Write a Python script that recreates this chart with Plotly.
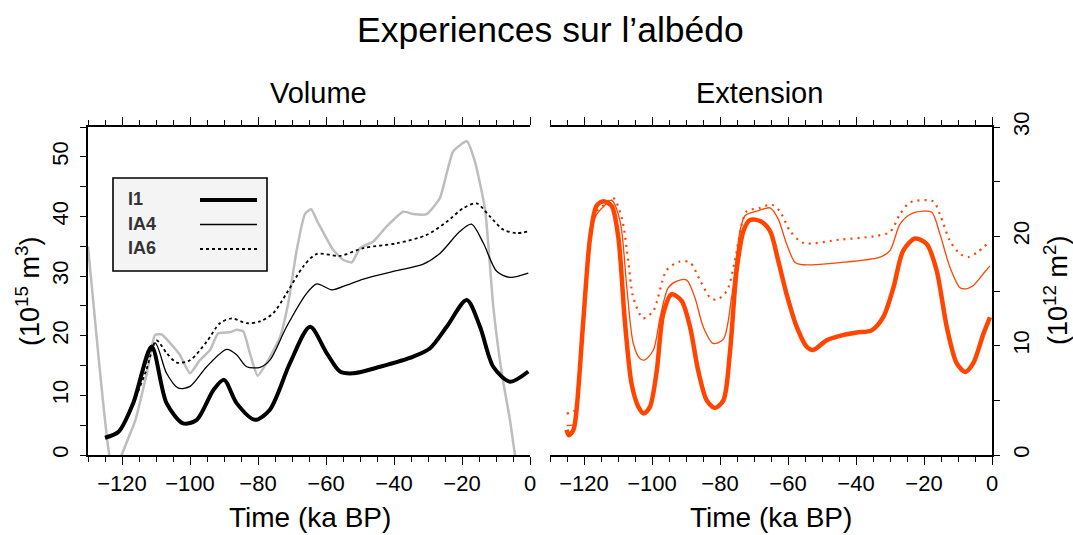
import plotly.graph_objects as go

W, H = 1073, 535

# Volume panel (10^15 m^3)
vol_i1_t = [-125, -121, -116.7, -111.3, -106.9, -102, -98, -93.1, -90, -86.3, -80.9, -76.5, -70.6,
            -64.7, -59.8, -55.9, -52, -44.1, -34.3, -29.4, -24.5, -18.6, -14.7, -10.8, -5.9, -0.5]
vol_i1 = [2.9, 3.9, 8.7, 18.2, 8.7, 5.3, 5.9, 10.9, 12.6, 8.7, 5.9, 7.6, 15.4,
          21.5, 17.1, 14.0, 13.7, 14.8, 16.5, 17.9, 21.5, 26.0, 21.5, 14.8, 12.3, 14.0]

vol_ia4_t = [-125, -121, -116.7, -110.3, -106.9, -103.4, -100, -95.1, -89.2, -86.3, -83.3, -79.4,
             -76.5, -71.6, -65.7, -62.7, -58.3, -53.9, -49, -39.2, -31.4, -26.5, -20.6, -17.2,
             -13.7, -9.8, -5.9, -0.5]
vol_ia4 = [2.9, 3.9, 8.7, 18.8, 13.7, 11.2, 11.5, 14.8, 17.7, 16.8, 14.8, 14.7,
           15.9, 21.5, 27.1, 28.7, 27.7, 28.5, 29.5, 30.9, 32.0, 33.8, 37.5, 38.7,
           35.5, 30.8, 29.8, 30.5]

vol_ia6_t = [-125, -121, -116.7, -113, -109.8, -106.9, -103.9, -100, -95.1, -91.2, -87.7, -83.3,
             -79.4, -75.5, -71.6, -66.7, -62.8, -55.9, -49, -39.2, -30.4, -24.5, -19.6, -15.7,
             -11.8, -7.9, -4, -0.5]
vol_ia6 = [2.9, 3.9, 8.7, 14.0, 19.2, 17.1, 15.5, 15.9, 19.0, 22.1, 22.9, 22.1,
           22.4, 23.8, 27.1, 31.6, 33.7, 33.4, 34.7, 35.5, 36.9, 39.1, 41.4, 42.2,
           40.0, 37.8, 37.2, 37.5]

vol_ref_t = [-130, -127, -123.7, -122, -120.1, -117.6, -116.2, -112.7, -110.3, -108.3, -105.9, -103,
             -100, -97.1, -94.1, -91.7, -88.2, -86.3, -84.3, -82.4, -80.1, -77.5, -73.5, -71.1,
             -68.6, -66.2, -64.4, -62.3, -57.9, -54.9, -52.4, -50, -46.1, -42.2, -37.3, -34.3,
             -30.4, -26.5, -22.6, -18.6, -16.2, -13.2, -10.8, -8.3, -5.9, -4.4, -2]
vol_ref = [35, 17, 0, -2.5, 0, 3.6, 5.6, 13.7, 20.1, 20.2, 18.8, 16.8,
           13.7, 15.9, 17.6, 20.4, 20.6, 21.0, 20.7, 17.1, 13.3, 15.4, 19.8, 25.5,
           34.4, 40.4, 41.2, 38.9, 34.4, 32.7, 32.3, 34.7, 35.8, 38.3, 40.8, 40.4,
           40.4, 43.1, 50.9, 52.6, 49.2, 41.1, 24.9, 13.7, 5.9, 0, -6]

# Extension panel (10^12 m^2)
ext_i1_t = [-125.1, -124.5, -123.1, -122.2, -120.2, -118.2, -116.3, -114.3, -111.9, -109.9, -108, -106,
            -104, -102.4, -100.6, -98.6, -96.7, -94.2, -91.3, -88.8, -86.4, -83.9, -81.5, -79,
            -77.1, -75.1, -73.1, -71.2, -68.2, -65.3, -62.9, -60.4, -57.4, -54.5, -52.6, -48.6,
            -44.7, -39.8, -35.4, -32, -29, -26.1, -22.6, -19.2, -16.3, -13.3, -10.4, -7.9,
            -5.5, -2.5, -0.6]
ext_i1 = [2.3, 1.8, 2.3, 4.1, 12.3, 19.9, 22.8, 23.2, 22.8, 19.9, 12.3, 6.5,
          4.4, 3.8, 4.4, 7.7, 12.9, 14.7, 14.1, 11.7, 7.7, 5.0, 4.3, 5.0,
          9.3, 16.9, 20.5, 21.5, 21.4, 20.5, 17.8, 14.7, 11.7, 9.9, 9.6, 10.5,
          10.9, 11.2, 11.4, 12.6, 15.3, 18.7, 19.8, 19.3, 16.9, 11.7, 8.4, 7.6,
          8.4, 11.1, 12.6]

ext_ia4_t = [-125.1, -123, -122.2, -120.2, -118.2, -116.3, -114, -111.9, -109.4, -107.4, -105.5, -103.5,
             -102.1, -99.6, -97.6, -95.2, -92.7, -89.8, -87.4, -84.9, -82, -79, -76.6, -74.1,
             -72.6, -69.2, -65.3, -62.9, -60.4, -57.9, -55.5, -44.7, -32.9, -30, -27.1, -24.1,
             -20.2, -17.7, -15.3, -12.4, -9.4, -7.5, -5.5, -2.5, -0.6]
ext_ia4 = [2.7, 2.8, 4.1, 12.3, 19.9, 22.0, 22.8, 23.3, 21.4, 15.3, 10.2, 8.8,
           8.7, 9.6, 12.6, 15.3, 15.9, 16.0, 14.4, 11.7, 10.2, 10.6, 14.4, 20.5,
           21.9, 22.3, 22.6, 21.6, 19.3, 17.6, 17.4, 17.6, 18.1, 18.7, 21.1, 22.0,
           22.3, 22.2, 20.2, 17.2, 15.3, 15.2, 15.5, 16.6, 17.3]

ext_ia6_t = [-125.1, -123, -122.2, -120.2, -118.2, -116.3, -114, -111.4, -108.9, -107, -105.5, -102.6,
             -99.6, -95.7, -91.8, -88.8, -85.9, -82.9, -81, -78, -75.6, -73.6, -72.1, -68.2,
             -64.8, -62.4, -59.4, -55.5, -44.7, -34.9, -30, -27.1, -24.1, -17.3, -15.3, -12.4,
             -9.4, -7, -4.5, -1.1]
ext_ia6 = [3.8, 4.0, 4.8, 12.3, 19.9, 22.3, 22.9, 23.5, 21.7, 17.8, 14.4, 12.5,
           13.2, 16.9, 17.7, 17.6, 16.0, 14.4, 14.2, 15.0, 17.8, 21.1, 22.3, 22.6,
           22.9, 22.3, 20.5, 19.4, 19.7, 20.0, 20.4, 22.0, 23.1, 23.2, 22.0, 19.6,
           18.4, 18.1, 18.5, 19.4]

legend_names = ["I1", "IA4", "IA6"]

BLACK = "#000000"
ORANGE = "#ff4500"
GREY = "#bdbdbd"
FONT = "Liberation Sans"

styles = {
    "I1": dict(width=4, dash="solid"),
    "IA4": dict(width=1.3, dash="solid"),
    "IA6": dict(width=1.8, dash="3px,3px"),
}


def px(x):
    return x / W


def py(y):
    return 1 - y / H


fig = go.Figure()

fig.add_trace(go.Scatter(x=vol_ref_t, y=vol_ref, mode="lines", line=dict(color=GREY, width=2.5, shape="spline", smoothing=0.5),
                         xaxis="x", yaxis="y", showlegend=False))
for name, t, v in [("I1", vol_i1_t, vol_i1), ("IA4", vol_ia4_t, vol_ia4), ("IA6", vol_ia6_t, vol_ia6)]:
    fig.add_trace(go.Scatter(x=t, y=v, mode="lines", name=name, xaxis="x", yaxis="y", showlegend=False,
                             line=dict(color=BLACK, shape="spline", smoothing=0.8, **styles[name])))
for name, t, v in [("IA6", ext_ia6_t, ext_ia6), ("IA4", ext_ia4_t, ext_ia4), ("I1", ext_i1_t, ext_i1)]:
    st = dict(styles[name])
    if name == "I1":
        st["width"] = 4.5
    if name == "IA6":
        st = dict(width=2.2, dash="2px,5px")
    fig.add_trace(go.Scatter(x=t, y=v, mode="lines", name=name, xaxis="x2", yaxis="y2", showlegend=False,
                             line=dict(color=ORANGE, shape="spline", smoothing=0.8, **st)))

xcommon = dict(range=[-130, 0], tickmode="linear", tick0=0, dtick=20, ticks="outside", ticklen=8,
               tickwidth=1.3, tickcolor="black", showline=True, linecolor="black", linewidth=1.8,
               mirror="ticks", showgrid=False, zeroline=False, automargin=False,
               tickfont=dict(family=FONT, size=22, color="black"),
               minor=dict(dtick=5, ticks="outside", ticklen=5, tickwidth=1.2, tickcolor="black", showgrid=False))
ycommon = dict(ticks="outside", ticklen=6, tickwidth=1.3, tickcolor="black", showline=True,
               linecolor="black", linewidth=1.8, showgrid=False, zeroline=False, tickangle=-90,
               tickmode="linear", tick0=0, dtick=10, automargin=False, ticklabelstandoff=3,
               tickfont=dict(family=FONT, size=22, color="black"),
               minor=dict(dtick=5, ticks="outside", ticklen=6, tickwidth=1.2, tickcolor="black", showgrid=False))

fig.update_layout(
    width=W, height=H, autosize=False,
    margin=dict(l=0, r=0, t=0, b=0, pad=0),
    paper_bgcolor="white", plot_bgcolor="white",
    font=dict(family=FONT, color="black"),
    xaxis=dict(domain=[px(88), px(530)], anchor="y", **xcommon),
    xaxis2=dict(domain=[px(550), px(992)], anchor="y2", **xcommon),
    yaxis=dict(domain=[py(455), py(127)], anchor="x", range=[0, 55], side="left", **ycommon),
    yaxis2=dict(domain=[py(455), py(127)], anchor="x2", range=[0, 30], side="right", **ycommon),
)

annotations = [
    dict(text="Experiences sur l’albédo", x=px(550), y=py(30), size=35.5),
    dict(text="Volume", x=px(318), y=py(93), size=29),
    dict(text="Extension", x=px(759), y=py(93), size=29),
    dict(text="Time (ka BP)", x=px(310), y=py(517), size=28),
    dict(text="Time (ka BP)", x=px(771), y=py(517), size=28),
]
for a in annotations:
    fig.add_annotation(text=a["text"], x=a["x"], y=a["y"], xref="paper", yref="paper",
                       showarrow=False, xanchor="center", yanchor="middle",
                       font=dict(family=FONT, size=a["size"], color="black"))

fig.add_annotation(text="(10<sup>15</sup> m<sup>3</sup>)", x=px(28), y=py(291), xref="paper", yref="paper",
                   showarrow=False, textangle=-90, xanchor="center", yanchor="middle",
                   font=dict(family=FONT, size=27, color="black"))
fig.add_annotation(text="(10<sup>12</sup> m<sup>2</sup>)", x=px(1056), y=py(290), xref="paper", yref="paper",
                   showarrow=False, textangle=-90, xanchor="center", yanchor="middle",
                   font=dict(family=FONT, size=27, color="black"))

# hand-drawn legend box (labels on the left, line samples on the right)
fig.add_shape(type="rect", xref="paper", yref="paper", x0=px(113), x1=px(267), y0=py(271), y1=py(178),
              fillcolor="#f4f4f4", line=dict(color="black", width=1.6), layer="below")
for i, name in enumerate(legend_names):
    yy = 199 + i * 24.5
    fig.add_annotation(text="<b>%s</b>" % name, x=px(126), y=py(yy), xref="paper", yref="paper",
                       showarrow=False, xanchor="left", yanchor="middle",
                       font=dict(family=FONT, size=18, color="#333333"))
    fig.add_shape(type="line", xref="paper", yref="paper", x0=px(200), x1=px(257), y0=py(yy + 1), y1=py(yy + 1),
                  line=dict(color=BLACK, width=styles[name]["width"], dash=styles[name]["dash"]))

# drop the default 8px body margin so the figure sits at the window's corner
fig.write_html("out.html", config={"displayModeBar": False},
               post_script="document.body.style.margin='0';")
